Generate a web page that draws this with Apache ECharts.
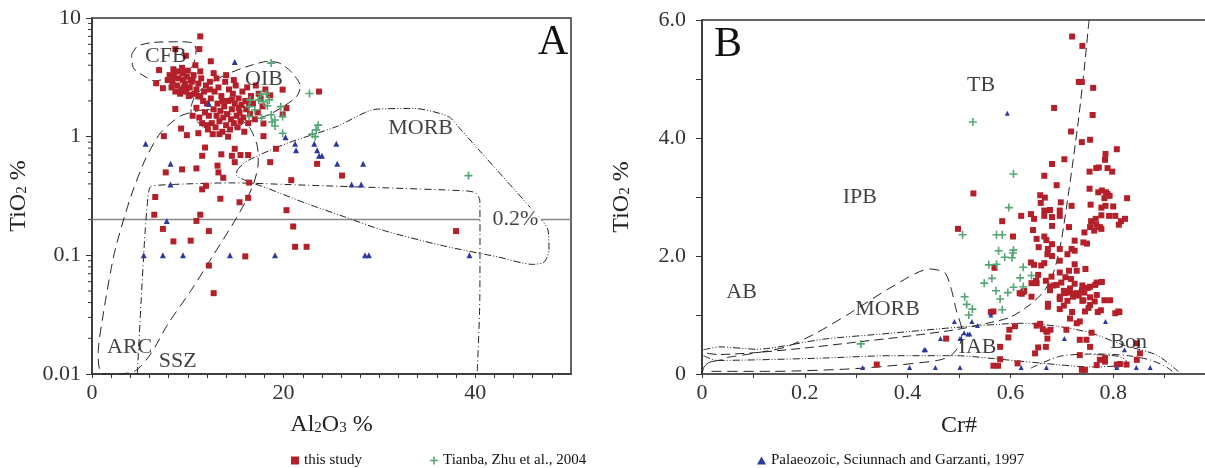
<!DOCTYPE html>
<html>
<head>
<meta charset="utf-8">
<script src="https://cdn.jsdelivr.net/npm/echarts@6/dist/echarts.min.js"></script>
<style>
html, body { margin: 0; padding: 0; background: #fff; }
#charts { width: 1205px; height: 468px; }
</style>
</head>
<body>
<div id="charts"></div>
<script>
// ---- panel A : Al2O3 vs TiO2 (log) ----
var studyA = [
    [11.3, 7.0], [11.2, 5.47], [8.7, 5.47], [9.8, 4.81], [12.4, 4.32], [7.0, 3.64], [10.8, 4.0], [11.3, 3.55],
    [12.7, 3.43], [9.1, 3.55], [6.7, 2.82], [7.4, 2.56], [7.9, 3.0], [8.5, 3.2], [9.5, 3.0], [9.9, 2.56],
    [10.5, 3.0], [10.3, 2.25], [11.1, 2.18], [8.7, 1.71], [19.9, 2.49], [23.7, 2.40], [20.3, 1.74], [19.9, 1.54],
    [18.6, 2.23], [17.9, 1.29], [17.9, 1.01], [7.5, 1.01], [9.9, 1.03], [9.3, 1.17], [11.1, 1.07], [11.8, 0.81],
    [11.5, 0.69], [13.5, 0.71], [14.9, 0.79], [14.6, 0.69], [15.5, 0.70], [16.3, 0.70], [14.9, 0.61], [18.6, 0.61],
    [19.2, 0.79], [13.1, 0.57], [10.9, 0.54], [9.4, 0.53], [7.7, 0.50], [13.2, 0.50], [13.7, 0.45], [11.9, 0.385],
    [11.5, 0.36], [16.4, 0.41], [6.6, 0.31], [13.4, 0.30], [15.4, 0.28], [16.3, 0.305], [20.8, 0.43], [23.5, 0.59],
    [26.1, 0.47], [20.3, 0.24], [6.5, 0.22], [11.3, 0.22], [10.9, 0.195], [7.4, 0.167], [12.2, 0.16], [8.5, 0.131],
    [10.3, 0.133], [21.0, 0.175], [38.0, 0.16], [21.2, 0.118], [22.4, 0.118], [16.0, 0.098], [12.2, 0.082], [12.7, 0.048],
    [8.1, 3.3], [8.4, 2.9], [8.6, 3.5], [8.9, 2.7], [9.0, 3.1], [9.3, 2.5], [9.5, 3.4], [9.7, 2.8],
    [9.9, 3.2], [10.2, 2.6], [10.4, 2.9], [10.6, 3.3], [10.9, 2.5], [11.1, 2.8], [11.4, 3.1], [11.7, 2.4],
    [8.3, 2.6], [8.7, 2.4], [9.2, 2.3], [9.8, 2.4], [10.1, 2.2], [10.7, 2.3], [11.3, 2.2], [8.5, 3.7],
    [9.4, 3.8], [10.0, 3.6], [11.9, 2.7], [12.3, 2.5], [9.6, 2.6], [10.3, 3.0],
    [12.0, 1.9], [12.2, 1.5], [12.4, 2.1], [12.5, 1.3], [12.7, 1.7], [12.8, 2.4], [12.9, 1.2], [13.0, 1.5],
    [13.1, 1.9], [13.2, 2.6], [13.3, 1.35], [13.4, 1.65], [13.5, 2.2], [13.6, 1.1], [13.7, 1.45], [13.8, 1.8],
    [13.9, 2.9], [14.0, 1.25], [14.1, 1.55], [14.2, 2.0], [14.3, 2.5], [14.4, 1.15], [14.5, 1.4], [14.6, 1.7],
    [14.7, 2.3], [14.8, 1.3], [14.9, 1.9], [15.0, 2.7], [15.1, 1.5], [15.2, 1.2], [15.3, 2.1], [15.4, 1.6],
    [15.5, 1.35], [15.6, 1.85], [15.7, 2.4], [15.8, 1.45], [15.9, 1.1], [16.0, 2.0], [16.1, 1.7], [16.2, 2.6],
    [16.3, 1.3], [16.5, 1.55], [16.6, 2.2], [16.8, 1.9], [17.0, 1.4], [17.1, 2.7], [17.3, 1.6], [17.6, 2.1],
    [17.8, 1.8], [18.1, 2.5], [12.1, 1.15], [12.6, 1.05], [13.3, 1.05], [14.2, 1.0], [11.5, 1.3], [11.8, 1.6],
    [11.2, 1.45], [10.9, 1.75], [10.5, 1.5], [11.6, 2.0], [12.3, 2.9], [13.0, 3.1], [14.0, 3.3], [14.8, 3.0],
    [12.0, 1.25], [13.6, 2.0], [14.6, 2.05], [15.3, 1.75], [16.4, 1.9], [17.4, 2.3]
];
var tianbaA = [
    [18.7, 4.17], [22.7, 2.31], [16.5, 2.04], [17.6, 2.28], [18.2, 2.29], [17.4, 2.04], [17.9, 1.97], [18.3, 1.82],
    [18.5, 2.04], [19.7, 1.79], [16.4, 1.79], [17.0, 1.68], [19.9, 1.48], [18.7, 1.53], [19.1, 1.38], [18.8, 1.33],
    [19.1, 1.23], [16.4, 1.48], [17.7, 1.43], [23.6, 1.25], [23.4, 1.14], [23.0, 1.05], [23.3, 1.0], [19.9, 1.07],
    [39.3, 0.47]
];
var palaeoA = [
    [14.9, 4.25], [5.6, 0.87], [8.2, 0.59], [8.2, 0.395], [7.8, 0.195], [5.4, 0.1], [7.4, 0.1], [9.5, 0.1],
    [14.4, 0.1], [19.1, 0.1], [28.5, 0.1], [28.9, 0.1], [39.4, 0.1], [20.2, 0.99], [21.2, 0.87], [21.3, 0.77],
    [23.2, 0.87], [23.5, 0.77], [23.7, 0.69], [24.0, 0.69], [25.5, 0.87], [25.6, 0.59], [28.3, 0.59], [27.1, 0.395],
    [28.1, 0.395], [12.2, 1.89]
];

// field outlines in A
var cfbA = [[4.13, 4.9], [4.73, 5.77], [6.33, 6.22], [9.14, 6.3], [10.54, 6.15], [10.86, 5.4], [10.74, 4.44],
    [10.34, 3.78], [9.14, 3.32], [7.94, 3.11], [6.53, 2.95], [5.53, 3.21], [4.33, 3.78], [4.13, 4.9]];
var oibA = [[10.34, 1.79], [10.74, 2.18], [11.94, 2.73], [14.35, 3.43], [16.75, 4.03], [18.36, 4.31], [19.56, 4.17],
    [20.76, 3.54], [21.76, 2.65], [21.36, 2.18], [19.96, 1.79], [18.36, 1.52], [15.95, 1.30], [13.95, 1.10],
    [12.75, 1.07], [11.14, 1.30], [10.34, 1.57], [10.34, 1.79]];
var arcA = [[11.94, 1.70], [14.35, 1.57], [16.35, 1.22], [17.27, 0.82], [17.35, 0.60], [16.75, 0.378], [15.15, 0.211],
    [12.75, 0.103], [10.34, 0.0506], [7.94, 0.0265], [6.13, 0.01476], [4.53, 0.01067], [2.32, 0.0099], [0.92, 0.0103],
    [0.64, 0.01476], [1.12, 0.0301], [2.32, 0.103], [3.93, 0.292], [5.53, 0.635], [7.13, 1.07], [9.14, 1.48],
    [10.74, 1.63], [11.94, 1.70]];
var sszA = [[4.73, 0.01], [5.13, 0.0417], [5.53, 0.152], [5.85, 0.311], [6.13, 0.378], [8.34, 0.395], [14.35, 0.408],
    [22.36, 0.39], [30.38, 0.371], [38.8, 0.35], [40.0, 0.337], [40.48, 0.292], [40.5, 0.152], [40.48, 0.0417], [40.2, 0.01]];
var morbA = [[15.15, 0.523], [16.15, 0.622], [20.36, 0.879], [25.57, 1.22], [29.58, 1.70], [33.59, 1.73], [37.19, 1.48],
    [38.4, 1.17], [40.4, 0.771], [43.2, 0.431], [46.0, 0.24], [47.6, 0.163], [47.7, 0.110], [47.2, 0.088], [46.0, 0.0839],
    [42.4, 0.0968], [36.4, 0.1216], [30.38, 0.1626], [26.37, 0.211], [22.36, 0.274], [18.36, 0.366], [15.95, 0.431],
    [15.07, 0.474], [15.15, 0.523]];
var limitLeftA = [[0, 0.2], [40.5, 0.2]];
var limitRightA = [[46.9, 0.2], [50, 0.2]];
var fieldNamesA = ['CFB', 'OIB', 'MORB', 'ARC', 'SSZ', '0.2%'];
var fieldPosA = [[7.7, 4.74], [17.96, 3.07], [34.3, 1.17], [3.93, 0.0168], [8.94, 0.0127], [44.2, 0.2]];
var logMinorTicks = [0.02, 0.03, 0.04, 0.05, 0.06, 0.07, 0.08, 0.09, 0.2, 0.3, 0.4, 0.5, 0.6, 0.7, 0.8, 0.9,
    2, 3, 4, 5, 6, 7, 8, 9];

// ---- panel B : Cr# vs TiO2 ----
var studyB = [
    [0.720, 5.72], [0.740, 5.56], [0.733, 4.95], [0.739, 4.95], [0.761, 4.85], [0.685, 4.51], [0.760, 4.39], [0.718, 4.11],
    [0.739, 3.93], [0.755, 3.97], [0.807, 3.81], [0.785, 3.73], [0.784, 3.63], [0.705, 3.64], [0.681, 3.56], [0.666, 3.36],
    [0.754, 3.43], [0.767, 3.49], [0.772, 3.50], [0.789, 3.49], [0.798, 3.43], [0.690, 3.20], [0.754, 3.14], [0.771, 3.08],
    [0.778, 3.11], [0.786, 3.08], [0.789, 3.05], [0.793, 3.02], [0.783, 2.98], [0.528, 3.06], [0.658, 3.03], [0.667, 2.99],
    [0.827, 2.98], [0.698, 2.91], [0.719, 2.85], [0.659, 2.90], [0.756, 2.87], [0.777, 2.82], [0.785, 2.85], [0.800, 2.84],
    [0.666, 2.77], [0.677, 2.78], [0.696, 2.77], [0.621, 2.68], [0.640, 2.71], [0.666, 2.68], [0.681, 2.66], [0.696, 2.68],
    [0.777, 2.69], [0.792, 2.68], [0.804, 2.68], [0.584, 2.59], [0.646, 2.63], [0.757, 2.59], [0.766, 2.63], [0.815, 2.59],
    [0.823, 2.63], [0.811, 2.53], [0.681, 2.51], [0.714, 2.49], [0.644, 2.44], [0.744, 2.40], [0.755, 2.49], [0.767, 2.53],
    [0.774, 2.49], [0.777, 2.46], [0.763, 2.43], [0.498, 2.46], [0.605, 2.33], [0.651, 2.29], [0.666, 2.33], [0.670, 2.27],
    [0.725, 2.26], [0.742, 2.23], [0.749, 2.21], [0.655, 2.15], [0.673, 2.12], [0.681, 2.20], [0.696, 2.12], [0.719, 2.12],
    [0.725, 2.09], [0.672, 2.03], [0.681, 2.00], [0.696, 1.92], [0.711, 2.03], [0.569, 1.80], [0.640, 1.89], [0.646, 1.85],
    [0.666, 1.88], [0.660, 1.84], [0.725, 1.86], [0.714, 1.75], [0.729, 1.75], [0.746, 1.78], [0.696, 1.72], [0.707, 1.64],
    [0.699, 1.55], [0.718, 1.61], [0.641, 1.54], [0.650, 1.58], [0.669, 1.58], [0.684, 1.50], [0.677, 1.42], [0.725, 1.53],
    [0.740, 1.50], [0.755, 1.48], [0.768, 1.55], [0.751, 1.46], [0.704, 1.41], [0.715, 1.38], [0.725, 1.36], [0.733, 1.33],
    [0.744, 1.38], [0.755, 1.30], [0.618, 1.37], [0.627, 1.41], [0.696, 1.27], [0.711, 1.24], [0.740, 1.24], [0.673, 1.19],
    [0.704, 1.16], [0.764, 1.23], [0.673, 1.14], [0.696, 1.10], [0.720, 1.05], [0.752, 1.12], [0.770, 1.05], [0.804, 1.03],
    [0.641, 1.31], [0.562, 1.05], [0.651, 0.82], [0.670, 0.72], [0.663, 0.76], [0.729, 0.86],
    [0.475, 0.60], [0.567, 1.06], [0.580, 0.46], [0.598, 0.75], [0.609, 0.81], [0.596, 0.62], [0.580, 0.25], [0.567, 0.14],
    [0.576, 0.14], [0.614, 0.18], [0.648, 0.35], [0.658, 0.85], [0.654, 0.45], [0.672, 0.72], [0.678, 0.75], [0.672, 0.60],
    [0.669, 0.46], [0.709, 0.75], [0.735, 0.58], [0.735, 0.32], [0.748, 0.58], [0.755, 0.46], [0.758, 0.70], [0.745, 0.07],
    [0.768, 0.15], [0.774, 0.24], [0.784, 0.27], [0.784, 0.21], [0.813, 0.17], [0.826, 0.16], [0.846, 0.24], [0.852, 0.35],
    [0.846, 0.52], [0.807, 0.16], [0.810, 1.06], [0.776, 1.08], [0.783, 1.25], [0.735, 0.89], [0.716, 0.94], [0.625, 1.39],
    [0.622, 1.36], [0.651, 1.54], [0.654, 1.68], [0.680, 1.65], [0.677, 1.48], [0.690, 1.51], [0.696, 1.31], [0.706, 1.37],
    [0.716, 1.45], [0.722, 1.31], [0.729, 1.37], [0.739, 1.42], [0.742, 1.25], [0.745, 1.06], [0.755, 1.17], [0.765, 1.51],
    [0.768, 1.34], [0.778, 1.56], [0.794, 1.25], [0.812, 1.05], [0.340, 0.16], [0.739, 0.07]
];
var tianbaB = [
    [0.527, 4.27], [0.606, 3.39], [0.597, 2.82], [0.507, 2.36], [0.573, 2.36], [0.584, 2.36], [0.577, 2.09], [0.606, 2.10],
    [0.605, 2.05], [0.589, 1.98], [0.603, 1.97], [0.558, 1.85], [0.573, 1.86], [0.625, 1.81], [0.564, 1.62], [0.549, 1.54],
    [0.619, 1.63], [0.641, 1.67], [0.572, 1.41], [0.580, 1.27], [0.595, 1.38], [0.606, 1.47], [0.625, 1.48], [0.511, 1.31],
    [0.515, 1.18], [0.526, 1.10], [0.519, 1.00], [0.584, 1.09], [0.309, 0.51]
];
var palaeoB = [
    [0.594, 4.42], [0.491, 0.89], [0.525, 0.89], [0.562, 1.00], [0.785, 0.89], [0.502, 0.60], [0.517, 0.68], [0.521, 0.68],
    [0.510, 0.70], [0.536, 0.82], [0.464, 0.60], [0.432, 0.41], [0.435, 0.41], [0.3125, 0.11], [0.404, 0.11], [0.454, 0.11],
    [0.502, 0.11], [0.621, 0.11], [0.670, 0.11], [0.807, 0.11], [0.822, 0.41], [0.845, 0.11], [0.872, 0.11], [0.705, 0.60]
];

// field outlines in B
var tbLineB = [[0.753, 6.0], [0.744, 5.20], [0.733, 4.35], [0.722, 3.62], [0.711, 2.94], [0.699, 2.26], [0.685, 1.75],
    [0.666, 1.41], [0.636, 1.16], [0.599, 0.96], [0.56, 0.87], [0.5, 0.76], [0.4, 0.64], [0.3, 0.54], [0.2, 0.44],
    [0.1, 0.36], [0.03, 0.33], [0.005, 0.36]];
var morbLoopB = [[0.048, 0.28], [0.16, 0.45], [0.219, 0.68], [0.286, 1.02], [0.368, 1.47], [0.443, 1.78], [0.472, 1.72],
    [0.484, 1.47], [0.495, 1.07], [0.506, 0.73], [0.502, 0.51], [0.484, 0.31], [0.458, 0.23], [0.368, 0.14], [0.286, 0.085],
    [0.138, 0.045], [0.007, 0.045]];
var outerB = [[0.003, 0.41], [0.035, 0.46], [0.106, 0.42], [0.236, 0.59], [0.366, 0.69], [0.495, 0.79], [0.625, 0.86],
    [0.69, 0.81], [0.755, 0.70], [0.82, 0.49], [0.885, 0.32], [0.927, 0.04]];
var iabLowB = [[0.003, 0.31], [0.029, 0.23], [0.106, 0.24], [0.236, 0.27], [0.366, 0.31], [0.495, 0.31], [0.592, 0.24],
    [0.69, 0.16], [0.755, 0.12], [0.807, 0.14], [0.826, 0.22], [0.81, 0.30], [0.76, 0.33]];
var bonB = [[0.64, 0.1], [0.696, 0.30], [0.77, 0.34], [0.83, 0.31], [0.875, 0.23], [0.905, 0.11], [0.92, 0.01]];
var originB = [[0.0, 0.0], [0.004, 0.12], [0.015, 0.2], [0.04, 0.24]];
var fieldNamesB = ['TB', 'IPB', 'AB', 'MORB', 'IAB', 'Bon'];
var fieldPosB = [[0.543, 4.89], [0.307, 3.0], [0.077, 1.38], [0.361, 1.10], [0.536, 0.45], [0.83, 0.54]];

var legendNames = ['this study', 'Tianba, Zhu et al., 2004', 'Palaeozoic, Sciunnach and Garzanti, 1997'];

var serif = 'Liberation Serif';
var red = '#b3202a', green = '#52a673', blue = '#2b3a9c';
var plusPath = 'path://M4,0h2v4h4v2h-4v4h-2v-4h-4v-2h4z';
var dashT = [9, 5], dotT = [7, 3, 1, 3], ddotT = [7, 2, 1, 2, 1, 2];

var myChart = echarts.init(document.getElementById('charts'));

function outline(data, dash, gi) {
    return {
        type: 'line', xAxisIndex: gi, yAxisIndex: gi, data: data, symbol: 'none', silent: true,
        smooth: 0.25, z: 1,
        lineStyle: { color: '#222', width: 1, type: dash }
    };
}

function fieldLabels(names, pos, gi) {
    var d = [], i = 0;
    for (i; i < names.length; i++) {
        d.push({ name: names[i], value: pos[i] });
    }
    return {
        type: 'scatter', xAxisIndex: gi, yAxisIndex: gi, data: d, symbolSize: 2, silent: true, z: 10,
        itemStyle: { color: 'rgba(0,0,0,0)' },
        label: {
            show: true, position: 'inside', formatter: '{b}', color: '#111', fontFamily: serif, fontSize: 22
        }
    };
}

function pointSeries(name, data, gi, sym, size, color) {
    return {
        name: name, type: 'scatter', xAxisIndex: gi, yAxisIndex: gi, data: data,
        symbol: sym, symbolSize: size, itemStyle: { color: color, opacity: 1 }, z: 5
    };
}

var labelsA = fieldLabels(fieldNamesA, fieldPosA, 0);
labelsA.data[5].label = { backgroundColor: '#fff', padding: [1, 3] };
var labelsB = fieldLabels(fieldNamesB, fieldPosB, 1);

var axisTxt = { color: '#333', fontFamily: serif, fontSize: 22 };
var nameTxt = {
    color: '#222', fontFamily: serif, fontSize: 24,
    rich: { s: { fontSize: 15, fontFamily: serif, color: '#222', padding: [7, 0, 0, 0] } }
};

var option = {
    animation: false,
    backgroundColor: '#fff',
    textStyle: { fontFamily: serif },
    grid: [
        { left: 92, top: 18, width: 479, height: 356, show: true, borderColor: '#333', borderWidth: 1.5, outerBoundsMode: 'none' },
        { left: 702, top: 20, width: 514, height: 354, show: true, borderColor: '#333', borderWidth: 1.5, outerBoundsMode: 'none' }
    ],
    legend: [
        { data: [legendNames[0]], left: 286, top: 448, itemWidth: 8, itemHeight: 8, itemGap: 6,
          textStyle: { fontFamily: serif, fontSize: 15, color: '#111' }, selectedMode: false },
        { data: [{ name: legendNames[1], icon: plusPath }], left: 425, top: 448, itemWidth: 8, itemHeight: 8,
          textStyle: { fontFamily: serif, fontSize: 15, color: '#111' }, selectedMode: false },
        { data: [{ name: legendNames[2], icon: 'triangle' }], left: 752, top: 448, itemWidth: 9, itemHeight: 8,
          textStyle: { fontFamily: serif, fontSize: 15, color: '#111' }, selectedMode: false }
    ],
    xAxis: [
        {
            gridIndex: 0, type: 'value', min: 0, max: 50, interval: 2,
            name: 'Al{s|2}O{s|3} %', nameLocation: 'middle', nameGap: 39, nameTextStyle: nameTxt,
            axisLine: { lineStyle: { color: '#333', width: 1.5 } },
            axisTick: { length: 4, lineStyle: { color: '#333' } },
            axisLabel: Object.assign({ margin: 8, showMaxLabel: false,
                formatter: function (v) { return (v % 20 === 0 && v < 50) ? String(v) : ''; } }, axisTxt),
            splitLine: { show: false }
        },
        {
            gridIndex: 1, type: 'value', min: 0, max: 1.0, interval: 0.1,
            name: 'Cr#', nameLocation: 'middle', nameGap: 40,
            nameTextStyle: { color: '#222', fontFamily: serif, fontSize: 24 },
            axisLine: { lineStyle: { color: '#555', width: 2 } },
            axisTick: { length: 4, lineStyle: { color: '#333' } },
            axisLabel: Object.assign({ margin: 8,
                formatter: function (v) {
                    var k = Math.round(v * 10);
                    if (k === 0) { return '0'; }
                    return (k % 2 === 0 && k < 10) ? (k / 10).toFixed(1) : '';
                } }, axisTxt),
            splitLine: { show: false }
        }
    ],
    yAxis: [
        {
            gridIndex: 0, type: 'log', logBase: 10, min: 0.01, max: 10,
            name: 'TiO{s|2} %', nameLocation: 'middle', nameGap: 61, nameRotate: 90, nameTextStyle: nameTxt,
            axisLine: { lineStyle: { color: '#333', width: 1.5 } },
            axisTick: { length: 6, lineStyle: { color: '#333' } },
            axisLabel: Object.assign({ margin: 11, formatter: function (v) { return String(+v.toPrecision(3)); } }, axisTxt),
            splitLine: { show: false }
        },
        {
            gridIndex: 1, type: 'value', min: 0, max: 6, interval: 1,
            name: 'TiO{s|2} %', nameLocation: 'middle', nameGap: 68, nameRotate: 90, nameTextStyle: nameTxt,
            axisLine: { lineStyle: { color: '#333', width: 1.5 } },
            axisTick: { length: 6, lineStyle: { color: '#333' } },
            axisLabel: Object.assign({ margin: 16,
                formatter: function (v) { return v === 0 ? '0' : (v % 2 === 0 ? v.toFixed(1) : ''); } }, axisTxt),
            splitLine: { show: false }
        }
    ],
    graphic: [
        { type: 'text', left: 538, top: 22, style: { text: 'A', font: '42px "Liberation Serif"', fill: '#111' } },
        { type: 'text', left: 714, top: 24, style: { text: 'B', font: '42px "Liberation Serif"', fill: '#111' } }
    ],
    series: [
        // log minor ticks on panel A y axis
        {
            type: 'custom', xAxisIndex: 0, yAxisIndex: 0, silent: true, clip: false,
            data: logMinorTicks.map(function (v) { return [0, v]; }),
            renderItem: function (params, api) {
                var p = api.coord([0, api.value(1)]);
                return { type: 'line', shape: { x1: p[0] - 4, y1: p[1], x2: p[0], y2: p[1] },
                    style: { stroke: '#333', lineWidth: 1 } };
            }
        },
        {
            type: 'line', xAxisIndex: 0, yAxisIndex: 0, data: limitLeftA, symbol: 'none', silent: true, z: 1,
            lineStyle: { color: '#888', width: 1.5 }
        },
        {
            type: 'line', xAxisIndex: 0, yAxisIndex: 0, data: limitRightA, symbol: 'none', silent: true, z: 1,
            lineStyle: { color: '#888', width: 1.5 }
        },
        outline(cfbA, dashT, 0),
        outline(oibA, dashT, 0),
        outline(arcA, [10, 6], 0),
        outline(sszA, dotT, 0),
        outline(morbA, ddotT, 0),
        outline(tbLineB, dashT, 1),
        outline(morbLoopB, [10, 6], 1),
        outline(outerB, ddotT, 1),
        outline(iabLowB, ddotT, 1),
        outline(bonB, dotT, 1),
        outline(originB, 'solid', 1),
        pointSeries(legendNames[0], studyA, 0, 'rect', 6, red),
        pointSeries(legendNames[1], tianbaA, 0, plusPath, 8, green),
        pointSeries(legendNames[2], palaeoA, 0, 'triangle', 6, blue),
        pointSeries(legendNames[0], studyB, 1, 'rect', 6, red),
        pointSeries(legendNames[1], tianbaB, 1, plusPath, 8, green),
        pointSeries(legendNames[2], palaeoB, 1, 'triangle', 5, blue),
        labelsA,
        labelsB
    ]
};

myChart.setOption(option);
</script>
</body>
</html>
